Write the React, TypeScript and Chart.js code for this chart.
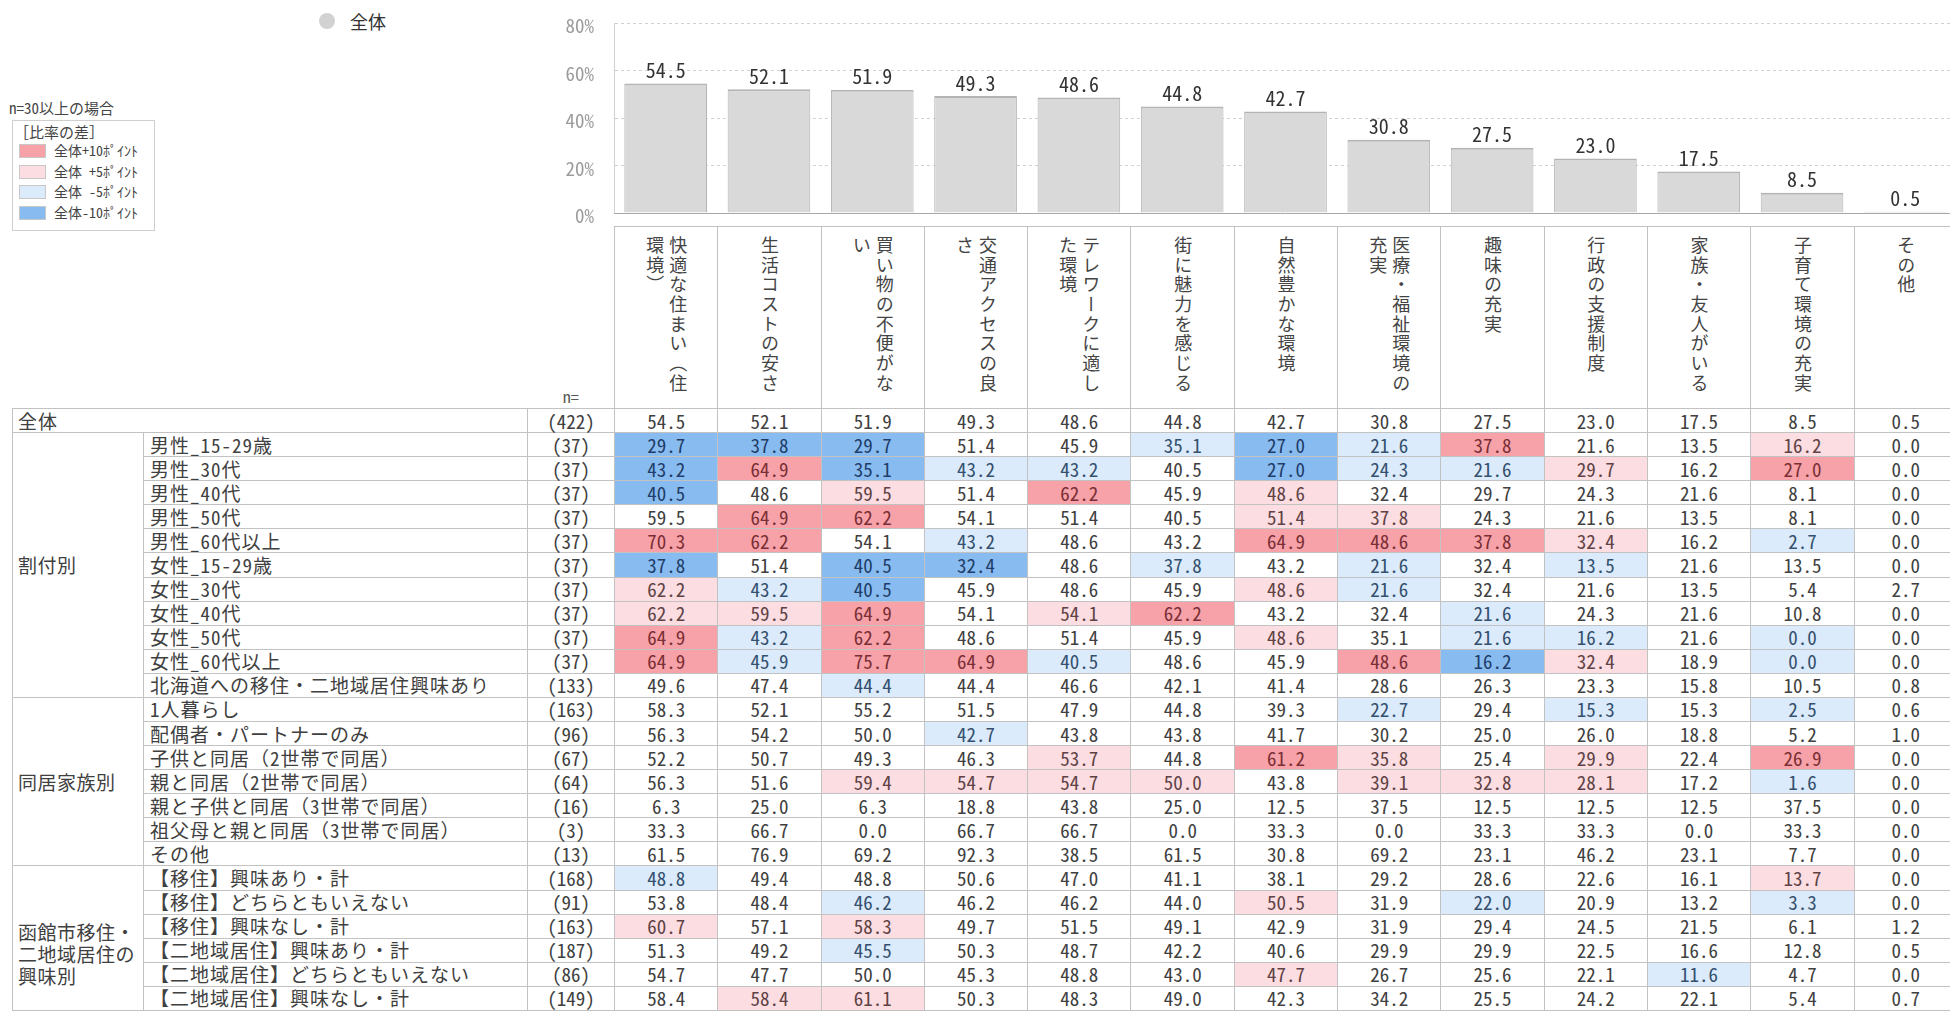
import React, { useEffect, useRef } from "react";
import { Chart, registerables } from "chart.js";

Chart.register(...registerables);

const FONT = '"Noto Sans Mono CJK JP", "Noto Sans CJK JP", "DejaVu Sans", sans-serif';

// ---------- data ----------
const seriesName = "全体";

const categories = [
  "快適な住まい（住環境）",
  "生活コストの安さ",
  "買い物の不便がない",
  "交通アクセスの良さ",
  "テレワークに適した環境",
  "街に魅力を感じる",
  "自然豊かな環境",
  "医療・福祉環境の充実",
  "趣味の充実",
  "行政の支援制度",
  "家族・友人がいる",
  "子育て環境の充実",
  "その他",
];

const overallValues = [54.5, 52.1, 51.9, 49.3, 48.6, 44.8, 42.7, 30.8, 27.5, 23.0, 17.5, 8.5, 0.5];

const yTickValues = [0, 20, 40, 60, 80];

const groupLabels = ["割付別", "同居家族別", "函館市移住・\n二地域居住の\n興味別"];
const groupSizes = [11, 7, 6];

const rowLabels = [
  "全体",
  "男性_15-29歳",
  "男性_30代",
  "男性_40代",
  "男性_50代",
  "男性_60代以上",
  "女性_15-29歳",
  "女性_30代",
  "女性_40代",
  "女性_50代",
  "女性_60代以上",
  "北海道への移住・二地域居住興味あり",
  "1人暮らし",
  "配偶者・パートナーのみ",
  "子供と同居（2世帯で同居）",
  "親と同居（2世帯で同居）",
  "親と子供と同居（3世帯で同居）",
  "祖父母と親と同居（3世帯で同居）",
  "その他",
  "【移住】興味あり・計",
  "【移住】どちらともいえない",
  "【移住】興味なし・計",
  "【二地域居住】興味あり・計",
  "【二地域居住】どちらともいえない",
  "【二地域居住】興味なし・計",
];

const nValues = [422, 37, 37, 37, 37, 37, 37, 37, 37, 37, 37, 133, 163, 96, 67, 64, 16, 3, 13, 168, 91, 163, 187, 86, 149];

const rowValues = [
  overallValues,
  [29.7, 37.8, 29.7, 51.4, 45.9, 35.1, 27.0, 21.6, 37.8, 21.6, 13.5, 16.2, 0.0],
  [43.2, 64.9, 35.1, 43.2, 43.2, 40.5, 27.0, 24.3, 21.6, 29.7, 16.2, 27.0, 0.0],
  [40.5, 48.6, 59.5, 51.4, 62.2, 45.9, 48.6, 32.4, 29.7, 24.3, 21.6, 8.1, 0.0],
  [59.5, 64.9, 62.2, 54.1, 51.4, 40.5, 51.4, 37.8, 24.3, 21.6, 13.5, 8.1, 0.0],
  [70.3, 62.2, 54.1, 43.2, 48.6, 43.2, 64.9, 48.6, 37.8, 32.4, 16.2, 2.7, 0.0],
  [37.8, 51.4, 40.5, 32.4, 48.6, 37.8, 43.2, 21.6, 32.4, 13.5, 21.6, 13.5, 0.0],
  [62.2, 43.2, 40.5, 45.9, 48.6, 45.9, 48.6, 21.6, 32.4, 21.6, 13.5, 5.4, 2.7],
  [62.2, 59.5, 64.9, 54.1, 54.1, 62.2, 43.2, 32.4, 21.6, 24.3, 21.6, 10.8, 0.0],
  [64.9, 43.2, 62.2, 48.6, 51.4, 45.9, 48.6, 35.1, 21.6, 16.2, 21.6, 0.0, 0.0],
  [64.9, 45.9, 75.7, 64.9, 40.5, 48.6, 45.9, 48.6, 16.2, 32.4, 18.9, 0.0, 0.0],
  [49.6, 47.4, 44.4, 44.4, 46.6, 42.1, 41.4, 28.6, 26.3, 23.3, 15.8, 10.5, 0.8],
  [58.3, 52.1, 55.2, 51.5, 47.9, 44.8, 39.3, 22.7, 29.4, 15.3, 15.3, 2.5, 0.6],
  [56.3, 54.2, 50.0, 42.7, 43.8, 43.8, 41.7, 30.2, 25.0, 26.0, 18.8, 5.2, 1.0],
  [52.2, 50.7, 49.3, 46.3, 53.7, 44.8, 61.2, 35.8, 25.4, 29.9, 22.4, 26.9, 0.0],
  [56.3, 51.6, 59.4, 54.7, 54.7, 50.0, 43.8, 39.1, 32.8, 28.1, 17.2, 1.6, 0.0],
  [6.3, 25.0, 6.3, 18.8, 43.8, 25.0, 12.5, 37.5, 12.5, 12.5, 12.5, 37.5, 0.0],
  [33.3, 66.7, 0.0, 66.7, 66.7, 0.0, 33.3, 0.0, 33.3, 33.3, 0.0, 33.3, 0.0],
  [61.5, 76.9, 69.2, 92.3, 38.5, 61.5, 30.8, 69.2, 23.1, 46.2, 23.1, 7.7, 0.0],
  [48.8, 49.4, 48.8, 50.6, 47.0, 41.1, 38.1, 29.2, 28.6, 22.6, 16.1, 13.7, 0.0],
  [53.8, 48.4, 46.2, 46.2, 46.2, 44.0, 50.5, 31.9, 22.0, 20.9, 13.2, 3.3, 0.0],
  [60.7, 57.1, 58.3, 49.7, 51.5, 49.1, 42.9, 31.9, 29.4, 24.5, 21.5, 6.1, 1.2],
  [51.3, 49.2, 45.5, 50.3, 48.7, 42.2, 40.6, 29.9, 29.9, 22.5, 16.6, 12.8, 0.5],
  [54.7, 47.7, 50.0, 45.3, 48.8, 43.0, 47.7, 26.7, 25.6, 22.1, 11.6, 4.7, 0.0],
  [58.4, 58.4, 61.1, 50.3, 48.3, 49.0, 42.3, 34.2, 25.5, 24.2, 22.1, 5.4, 0.7],
];

// difference level vs 全体 (R: +10pt, r: +5pt, b: -5pt, B: -10pt, .: none)
const diffLevels = [
  ".............",
  "BBB..bBbR..r.",
  "BRBbb.Bbbr.R.",
  "B.r.R.r......",
  ".RR...rr.....",
  "RR.b..RRRr.b.",
  "B.BB.b.b.b...",
  "rbB...rb.....",
  "rrR.rR..b....",
  "RbR...r.bb.b.",
  "RbRRb..RBr.b.",
  "..b..........",
  ".......b.b.b.",
  "...b.........",
  "....r.Rr.r.R.",
  "..rrrr.rrr.b.",
  ".............",
  ".............",
  ".............",
  "b..........r.",
  "..b...r.b..b.",
  "r.r..........",
  "..b..........",
  "......r...b..",
  ".rr..........",
];

const legendItems = ["全体+10ﾎﾟｲﾝﾄ", "全体 +5ﾎﾟｲﾝﾄ", "全体 -5ﾎﾟｲﾝﾄ", "全体-10ﾎﾟｲﾝﾄ"];
const legendKeys = ["R", "r", "b", "B"];

// ---------- styles ----------
const LEVEL_BG: Record<string, string> = {
  R: "#f6a2a8",
  r: "#fcdde1",
  b: "#dbebfb",
  B: "#88bcf0",
  ".": "#ffffff",
};
const LEVEL_FG: Record<string, string> = {
  R: "#7a2e35",
  r: "#5e4245",
  b: "#34506e",
  B: "#1f3d68",
  ".": "#404040",
};

const VAL_LEFT = 614;
const COL_W = 103.3;
const TABLE_LEFT = 12;
const CAT_W = 131;
const SUB_W = 384;
const N_W = VAL_LEFT - TABLE_LEFT - CAT_W - SUB_W;
const HEADER_TOP = 226;
const HEADER_H = 182;
const ROW_H = 24.08;
const GRID = "1px solid #c2c2c2";
const CANVAS_H = 226;
const PLOT_TOP = 23;
const PLOT_BOTTOM = 213;

function splitHeader(s: string): string {
  const chars = Array.from(s);
  const parts: string[] = [];
  for (let i = 0; i < chars.length; i += 8) parts.push(chars.slice(i, i + 8).join(""));
  return parts.join("\n");
}

function BarChart() {
  const ref = useRef<HTMLCanvasElement | null>(null);
  useEffect(() => {
    if (!ref.current) return;
    const labelPlugin = {
      id: "valueLabels",
      beforeDatasetsDraw(chart: any) {
        const { ctx, chartArea } = chart;
        ctx.save();
        ctx.strokeStyle = "#a8a8a8";
        ctx.lineWidth = 1;
        ctx.beginPath();
        ctx.moveTo(chartArea.left, Math.round(chartArea.bottom) + 0.5);
        ctx.lineTo(chartArea.right, Math.round(chartArea.bottom) + 0.5);
        ctx.stroke();
        ctx.restore();
      },
      afterDatasetsDraw(chart: any) {
        const ctx = chart.ctx;
        const meta = chart.getDatasetMeta(0);
        const data = chart.data.datasets[0].data as number[];
        ctx.save();
        ctx.font = `20px ${FONT}`;
        ctx.fillStyle = "#333333";
        ctx.textAlign = "center";
        ctx.textBaseline = "bottom";
        meta.data.forEach((bar: any, i: number) => {
          ctx.fillText(Number(data[i]).toFixed(1), bar.x, bar.y - 3);
        });
        ctx.restore();
      },
    };
    const chart = new Chart(ref.current, {
      type: "bar",
      data: {
        labels: categories,
        datasets: [
          {
            label: seriesName,
            data: overallValues,
            backgroundColor: "#d9d9d9",
            borderColor: "#b4b4b4",
            borderWidth: { top: 2, left: 1, right: 1, bottom: 0 },
            barPercentage: 0.8,
            categoryPercentage: 1,
          },
        ],
      },
      options: {
        animation: false,
        responsive: false,
        maintainAspectRatio: false,
        layout: { padding: { top: PLOT_TOP, bottom: CANVAS_H - PLOT_BOTTOM, left: 0, right: 0 } },
        plugins: { legend: { display: false }, tooltip: { enabled: false } },
        scales: {
          x: {
            display: false,
          },
          y: {
            min: 0,
            max: 80,
            afterBuildTicks: (s: any) => {
              s.ticks = yTickValues.map((v) => ({ value: v }));
            },
            ticks: {
              callback: (v: any) => v + "%",
              color: "#9c9c9c",
              font: { size: 19, family: FONT },
              padding: 20,
              labelOffset: 3,
            },
            grid: {
              drawTicks: false,
              color: (c: any) => (c.tick && c.tick.value === 0 ? "rgba(0,0,0,0)" : "#d2d2d2"),
            },
            border: { display: true, color: "#d0d0d0", dash: [3, 3] },
            afterFit: (s: any) => {
              s.width = 73;
              s.paddingTop = 0;
              s.paddingBottom = 0;
            },
          },
        },
      },
      plugins: [labelPlugin],
    });
    return () => chart.destroy();
  }, []);
  const left = VAL_LEFT - 73;
  const width = Math.round(VAL_LEFT + COL_W * categories.length - left);
  return (
    <canvas
      ref={ref}
      width={width}
      height={CANVAS_H}
      style={{ position: "absolute", left, top: 0, width, height: CANVAS_H }}
    />
  );
}

function DataTable() {
  const cellBase: React.CSSProperties = {
    border: GRID,
    padding: 0,
    height: ROW_H - 1,
    lineHeight: "22px",
    whiteSpace: "nowrap",
  };
  const rows: React.ReactNode[] = [];
  const groupStart: Record<number, number> = {};
  let idx = 1;
  groupSizes.forEach((sz, g) => {
    groupStart[idx] = g;
    idx += sz;
  });
  rowLabels.forEach((label, r) => {
    const cells: React.ReactNode[] = [];
    if (r === 0) {
      cells.push(
        <td key="lab" colSpan={2} style={{ ...cellBase, paddingLeft: 5, color: "#404040", letterSpacing: "1px" }}>
          {label}
        </td>
      );
    } else {
      if (groupStart[r] !== undefined) {
        const g = groupStart[r];
        cells.push(
          <td
            key="grp"
            rowSpan={groupSizes[g]}
            style={{
              ...cellBase,
              height: undefined,
              paddingLeft: 5,
              paddingTop: g === 2 ? 32 : 0,
              whiteSpace: "pre",
              lineHeight: "22px",
              verticalAlign: "middle",
              color: "#404040",
              letterSpacing: "0.5px",
            }}
          >
            {groupLabels[g]}
          </td>
        );
      }
      cells.push(
        <td key="lab" style={{ ...cellBase, paddingLeft: 6, color: "#404040", letterSpacing: "1px" }}>
          {label}
        </td>
      );
    }
    cells.push(
      <td key="n" style={{ ...cellBase, textAlign: "center", color: "#404040" }}>
        ({nValues[r]})
      </td>
    );
    rowValues[r].forEach((v, c) => {
      const lv = diffLevels[r][c];
      cells.push(
        <td
          key={"v" + c}
          style={{ ...cellBase, textAlign: "center", background: LEVEL_BG[lv], color: LEVEL_FG[lv] }}
        >
          {v.toFixed(1)}
        </td>
      );
    });
    rows.push(
      <tr key={"r" + r} style={{ height: ROW_H - 1 }}>
        {cells}
      </tr>
    );
  });

  return (
    <table
      style={{
        position: "absolute",
        left: TABLE_LEFT,
        top: HEADER_TOP,
        borderCollapse: "collapse",
        tableLayout: "fixed",
        width: CAT_W + SUB_W + N_W + COL_W * categories.length,
        fontSize: 19,
        fontFamily: FONT,
      }}
    >
      <colgroup>
        <col style={{ width: CAT_W }} />
        <col style={{ width: SUB_W }} />
        <col style={{ width: N_W }} />
        {categories.map((_, i) => (
          <col key={i} style={{ width: COL_W }} />
        ))}
      </colgroup>
      <tbody>
        <tr style={{ height: HEADER_H }}>
          <td colSpan={2} style={{ border: "none", padding: 0 }} />
          <td
            style={{
              border: "none",
              padding: "0 0 4px 0",
              verticalAlign: "bottom",
              textAlign: "center",
              fontSize: 16,
              color: "#555",
              lineHeight: "16px",
            }}
          >
            n=
          </td>
          {categories.map((c, i) => (
            <td
              key={i}
              style={{
                border: GRID,
                padding: "9px 0 0 0",
                verticalAlign: "top",
                textAlign: "center",
              }}
            >
              <div
                style={{
                  display: "inline-block",
                  writingMode: "vertical-rl",
                  whiteSpace: "pre",
                  height: 166,
                  fontSize: 18,
                  lineHeight: "23px",
                  letterSpacing: "1.7px",
                  color: "#444",
                  textAlign: "start",
                }}
              >
                {splitHeader(c)}
              </div>
            </td>
          ))}
        </tr>
        {rows}
      </tbody>
    </table>
  );
}

function Legends() {
  return (
    <>
      <div
        style={{
          position: "absolute",
          left: 319,
          top: 13,
          width: 16,
          height: 16,
          borderRadius: 8,
          background: "#d2d2d2",
        }}
      />
      <div
        style={{
          position: "absolute",
          left: 350,
          top: 9,
          fontSize: 18,
          lineHeight: "24px",
          color: "#333",
        }}
      >
        {seriesName}
      </div>
      <div style={{ position: "absolute", left: 9, top: 99, fontSize: 15, lineHeight: "18px", color: "#444" }}>
        n=30以上の場合
      </div>
      <div
        style={{
          position: "absolute",
          left: 12,
          top: 120,
          width: 143,
          height: 111,
          border: "1px solid #cfcfcf",
          boxSizing: "border-box",
        }}
      >
        <div style={{ position: "absolute", left: 1, top: 1, fontSize: 15, lineHeight: "19px", color: "#444" }}>
          ［比率の差］
        </div>
        {legendItems.map((t, i) => (
          <React.Fragment key={i}>
            <div
              style={{
                position: "absolute",
                left: 6,
                top: 23 + i * 20.5,
                width: 27,
                height: 14,
                background: LEVEL_BG[legendKeys[i]],
                border: "1px solid #c8c8c8",
                boxSizing: "border-box",
              }}
            />
            <div
              style={{
                position: "absolute",
                left: 41,
                top: 20 + i * 20.5,
                fontSize: 14,
                lineHeight: "19px",
                color: "#444",
                whiteSpace: "pre",
              }}
            >
              {t}
            </div>
          </React.Fragment>
        ))}
      </div>
    </>
  );
}

export default function App() {
  return (
    <div
      style={{
        position: "fixed",
        left: 0,
        top: 0,
        width: 1950,
        height: 1012,
        overflow: "hidden",
        background: "#ffffff",
        fontFamily: FONT,
      }}
    >
      <Legends />
      <BarChart />
      <DataTable />
    </div>
  );
}
